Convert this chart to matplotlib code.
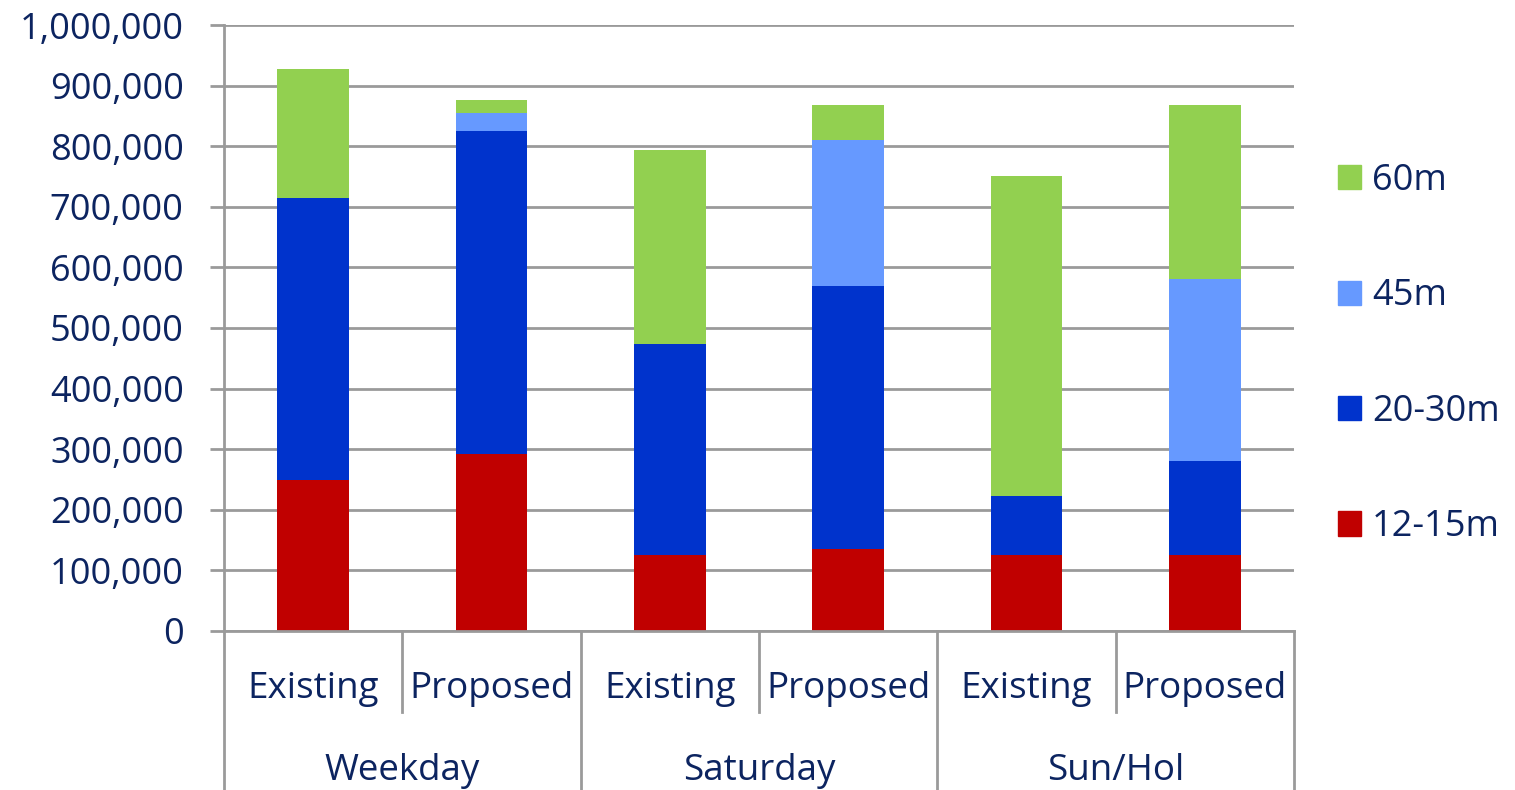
import numpy as np
import matplotlib.pyplot as plt
from matplotlib.patches import Patch
from matplotlib.ticker import FuncFormatter
import matplotlib.transforms as mtransforms

# data
days = ['Weekday', 'Saturday', 'Sun/Hol']
scenarios = ['Existing', 'Proposed']
m12_15 = [250000, 292000, 125000, 135000, 125000, 125000]
m20_30 = [465000, 533000, 349000, 434000, 98000, 155000]
m45 = [0, 30000, 0, 241000, 0, 301000]
m60 = [212000, 21000, 320000, 58000, 528000, 287000]

series = [('12-15m', m12_15, '#c00000'),
          ('20-30m', m20_30, '#0033cc'),
          ('45m', m45, '#6699ff'),
          ('60m', m60, '#92d050')]

navy = '#0c2460'
grey = '#9a9a9a'
plt.rcParams['font.family'] = ['Open Sans', 'DejaVu Sans']

fig = plt.figure(figsize=(15.15, 7.9), dpi=100)
ax = fig.add_axes([224/1515, 1 - 631/790, 1070/1515, 606/790])

x = np.arange(len(m12_15))
bottom = np.zeros(len(x))
handles = []
for name, vals, col in series:
    vals = np.array(vals)
    ax.bar(x, vals, 0.4, bottom=bottom, color=col, zorder=3)
    bottom += vals
    handles.append(Patch(color=col, label=name))

ax.set_xlim(-0.5, len(x) - 0.5)
ax.set_ylim(0, 1000000)
ax.set_yticks(np.arange(0, 1000001, 100000))
ax.yaxis.set_major_formatter(FuncFormatter(lambda v, p: f'{int(v):,}'))
ax.tick_params(axis='y', length=10, width=2, color=grey, pad=19,
               labelsize=26, labelcolor=navy)
ax.set_xticks([])
ax.grid(axis='y', color=grey, linewidth=2, zorder=0)

for s in ['top', 'right', 'bottom']:
    ax.spines[s].set_visible(False)
ax.spines['left'].set_color(grey)
ax.spines['left'].set_linewidth(2)

# two level category axis
trans = mtransforms.blended_transform_factory(ax.transData, ax.transAxes)
ax.plot([-0.5, len(x) - 0.5], [0, 0], color=grey, lw=2, transform=trans,
        clip_on=False, zorder=4)
for i in range(len(x) + 1):
    xb = i - 0.5
    low = -0.2624 if i % 2 == 0 else -0.1337
    ax.plot([xb, xb], [0, low], color=grey, lw=2, transform=trans,
            clip_on=False)
for i in range(len(x)):
    ax.text(i, -0.0958, scenarios[i % 2], transform=trans, ha='center',
            va='center', fontsize=26.5, color=navy)
for j, d in enumerate(days):
    ax.text(2*j + 0.5, -0.231, d, transform=trans, ha='center',
            va='center', fontsize=26.5, color=navy)

ax.legend(handles=handles[::-1], loc='center left', bbox_to_anchor=(1.041, 0.457),
          frameon=False, fontsize=26, labelcolor=navy, handlelength=0.65,
          handleheight=0.65, handletextpad=0.3, labelspacing=2.2,
          borderaxespad=0, borderpad=0)

fig.savefig('out.png', dpi=100)
